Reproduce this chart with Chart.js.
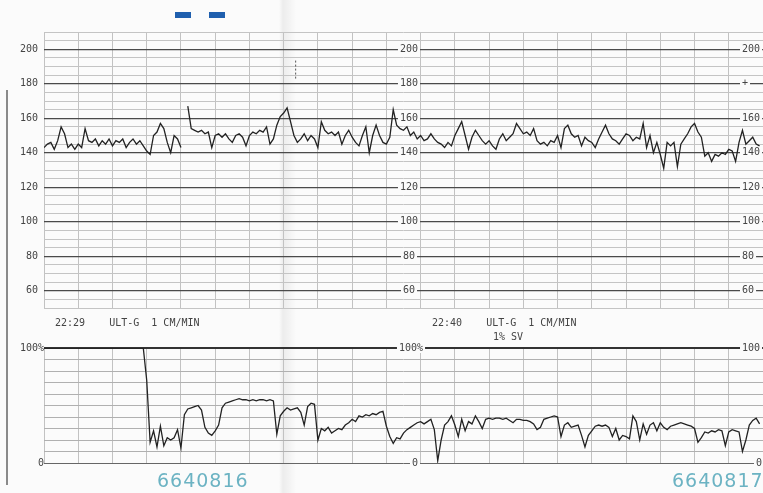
<!DOCTYPE html>
<html>
<head>
<meta charset="utf-8">
<script src="https://cdn.jsdelivr.net/npm/chart.js@4/dist/chart.umd.min.js"></script>
<style>
  html, body { margin: 0; padding: 0; background: #fbfbfb; }
  #page { position: relative; width: 763px; height: 493px; overflow: hidden;
    background: linear-gradient(90deg, rgba(0,0,0,0) 0, rgba(0,0,0,0) 279px, rgba(0,0,0,0.06) 283px, rgba(0,0,0,0.02) 292px, rgba(0,0,0,0) 296px); }
  canvas { position: absolute; left: 0; }
  #fhr { top: 0; }
  #toco { top: 335px; }
  .edge { position: absolute; left: 6px; top: 90px; width: 2px; height: 395px; background: #8a8a8a; }
  .mark { position: absolute; top: 12px; width: 16px; height: 6px; background: #1f5fae; }
  .txt { position: absolute; font: 10px "DejaVu Sans Mono", monospace; color: #444; white-space: pre; }
  .num { position: absolute; top: 469px; font: 19px "DejaVu Sans", sans-serif; letter-spacing: 1px; color: #6cb3c3; }
</style>
</head>
<body>
<div id="page">
  <div class="edge"></div>
  <div class="mark" style="left:175px"></div>
  <div class="mark" style="left:209px"></div>
  <canvas id="fhr" width="763" height="320"></canvas>
  <canvas id="toco" width="763" height="145"></canvas>
  <div class="txt" style="left:55px; top:317px">22:29    ULT-G  1 CM/MIN</div>
  <div class="txt" style="left:432px; top:317px">22:40    ULT-G  1 CM/MIN</div>
  <div class="txt" style="left:493px; top:331px">1% SV</div>
  <div class="num" style="left:157px">6640816</div>
  <div class="num" style="left:672px">6640817</div>
</div>
<script>
// samples every 0.1 min (1 cm/min paper)
var sampleStep = 0.1;

// fetal heart rate, bpm
var fhrValues = [
  143, 145, 146, 142, 147, 155, 151, 143, 145, 142,
  145, 143, 154, 147, 146, 148, 144, 147, 145, 148,
  144, 147, 146, 148, 143, 146, 148, 145, 147, 144,
  141, 139, 150, 152, 157, 154, 146, 140, 150, 148,
  143, null, 167, 154, 153, 152, 153, 151, 152, 143,
  150, 151, 149, 151, 148, 146, 150, 151, 149, 144,
  150, 152, 151, 153, 152, 155, 145, 148, 156, 161,
  163, 166, 158, 150, 146, 148, 151, 147, 150, 148,
  143, 158, 153, 151, 152, 150, 152, 145, 150, 153,
  149, 146, 144, 150, 155, 140, 150, 156, 150, 146,
  145, 149, 165, 156, 154, 153, 155, 150, 152, 148,
  150, 147, 148, 151, 148, 146, 145, 143, 146, 144,
  150, 154, 158, 150, 142, 149, 153, 150, 147, 145,
  147, 144, 142, 148, 151, 147, 149, 151, 157, 154,
  151, 152, 150, 154, 147, 145, 146, 144, 147, 146,
  150, 143, 154, 156, 151, 149, 150, 144, 149, 147,
  146, 143, 148, 152, 156, 151, 148, 147, 145, 148,
  151, 150, 147, 149, 148, 157, 143, 150, 140, 146,
  139, 131, 146, 144, 146, 132, 145, 148, 151, 155,
  157, 152, 149, 138, 140, 135, 139, 138, 140, 139,
  142, 141, 135, 146, 153, 145, 147, 149, 145, 144
];

// uterine activity, %
var tocoValues = [
  100, 100, 100, 100, 100, 100, 100, 100, 100, 100,
  100, 100, 100, 100, 100, 100, 100, 100, 100, 100,
  100, 100, 100, 100, 100, 100, 100, 100, 100, 100,
  72, 18, 28, 14, 32, 15, 22, 20, 22, 29,
  13, 42, 47, 48, 49, 50, 46, 31, 26, 24,
  28, 33, 48, 52, 53, 54, 55, 56, 55, 55,
  54, 55, 54, 55, 55, 54, 55, 54, 25, 41,
  45, 48, 46, 47, 48, 44, 33, 49, 52, 51,
  20, 30, 28, 31, 26, 28, 30, 29, 33, 35,
  38, 36, 41, 40, 42, 41, 43, 42, 44, 45,
  32, 23, 17, 22, 21, 26, 29, 31, 33, 35,
  36, 34, 36, 38, 29, 2, 20, 33, 36, 41,
  33, 23, 38, 28, 36, 34, 41, 36, 30, 38,
  39, 38, 39, 39, 38, 39, 37, 35, 38, 38,
  37, 37, 36, 34, 29, 31, 38, 39, 40, 41,
  40, 23, 33, 35, 31, 32, 33, 24, 14, 24,
  28, 32, 33, 32, 33, 31, 23, 30, 20, 24,
  23, 21, 41, 36, 20, 34, 25, 33, 35, 28,
  35, 31, 29, 32, 33, 34, 35, 34, 33, 32,
  30, 18, 22, 27, 26, 28, 27, 29, 28, 15,
  27, 29, 28, 27, 10, 20, 33, 37, 39, 34
];

// event marker on the FHR panel (minutes)
var eventMarks = [7.35];

// axis labels printed on the paper
var fhrLabels = [200, 180, 160, 140, 120, 100, 80, 60];
var fhrRightLabels = ['200', '+', '160', '140', '120', '100', '80', '60'];
var tocoLabels = [100, 0];

function toPoints(values) {
  return values.map(function (v, i) {
    return { x: Math.round(i * sampleStep * 100) / 100, y: v };
  });
}

var labelFont = '10px "DejaVu Sans Mono", monospace';

function paperLabel(ctx, text, x, y, align, clearBg) {
  ctx.font = labelFont;
  var w = ctx.measureText(text).width;
  var left = align === 'right' ? x - w : (align === 'center' ? x - w / 2 : x);
  if (clearBg) {
    ctx.fillStyle = '#fbfbfb';
    ctx.fillRect(left - 2, y - 5, w + 4, 10);
  }
  ctx.fillStyle = '#444';
  ctx.textAlign = 'left';
  ctx.textBaseline = 'middle';
  ctx.fillText(text, left, y);
}

var fhrLabelsPlugin = {
  id: 'fhrLabels',
  afterDraw: function (chart) {
    var ctx = chart.ctx, y = chart.scales.y;
    ctx.save();
    fhrLabels.forEach(function (v, i) {
      var py = y.getPixelForValue(v);
      paperLabel(ctx, String(v), 38, py, 'right', false);
      paperLabel(ctx, String(v), 409, py, 'center', true);
      paperLabel(ctx, fhrRightLabels[i], 742, py, 'left', true);
    });
    ctx.restore();
  }
};

var tocoLabelsPlugin = {
  id: 'tocoLabels',
  afterDraw: function (chart) {
    var ctx = chart.ctx, y = chart.scales.y;
    ctx.save();
    tocoLabels.forEach(function (v) {
      var py = y.getPixelForValue(v);
      var t = v === 100 ? '100%' : '0';
      paperLabel(ctx, t, 44, py, 'right', false);
      paperLabel(ctx, t, v === 100 ? 411 : 415, py, 'center', true);
      paperLabel(ctx, v === 100 ? '100' : '0', v === 100 ? 742 : 756, py, 'left', true);
    });
    ctx.restore();
  }
};

var xScale = {
  type: 'linear',
  min: 0,
  max: 21,
  ticks: { display: false, stepSize: 1, autoSkip: false },
  border: { display: false },
  grid: { drawTicks: false, color: '#c2c2c2', lineWidth: 1 }
};

new Chart(document.getElementById('fhr'), {
  type: 'line',
  data: {
    datasets: [{
      data: toPoints(fhrValues),
      borderColor: '#222',
      borderWidth: 1.3,
      pointRadius: 0,
      tension: 0,
      spanGaps: false
    }, {
      data: [{ x: eventMarks[0], y: 183 }, { x: eventMarks[0], y: 194 }],
      borderColor: '#555',
      borderWidth: 1,
      borderDash: [2, 2],
      pointRadius: 0
    }]
  },
  options: {
    responsive: false,
    animation: false,
    layout: { padding: { left: 44, top: 32, right: 0, bottom: 12 } },
    plugins: { legend: { display: false }, tooltip: { enabled: false } },
    scales: {
      x: xScale,
      y: {
        min: 50,
        max: 210,
        ticks: { display: false, stepSize: 5, autoSkip: false },
        border: { display: false },
        grid: {
          drawTicks: false,
          color: function (c) { return c.tick.value % 20 === 0 ? '#4a4a4a' : '#c4c4c4'; },
          lineWidth: function (c) { return c.tick.value % 20 === 0 ? 1.3 : 1; }
        }
      }
    }
  },
  plugins: [fhrLabelsPlugin]
});

new Chart(document.getElementById('toco'), {
  type: 'line',
  data: {
    datasets: [{
      data: toPoints(tocoValues),
      borderColor: '#222',
      borderWidth: 1.3,
      pointRadius: 0,
      tension: 0
    }]
  },
  options: {
    responsive: false,
    animation: false,
    layout: { padding: { left: 44, top: 13, right: 0, bottom: 17 } },
    plugins: { legend: { display: false }, tooltip: { enabled: false } },
    scales: {
      x: xScale,
      y: {
        min: 0,
        max: 100,
        ticks: { display: false, stepSize: 10, autoSkip: false },
        border: { display: false },
        grid: {
          drawTicks: false,
          color: function (c) { return c.tick.value === 100 ? '#333' : (c.tick.value === 0 ? '#666' : '#b0b0b0'); },
          lineWidth: function (c) { return c.tick.value === 100 ? 2 : 1; }
        }
      }
    }
  },
  plugins: [tocoLabelsPlugin]
});
</script>
</body>
</html>
